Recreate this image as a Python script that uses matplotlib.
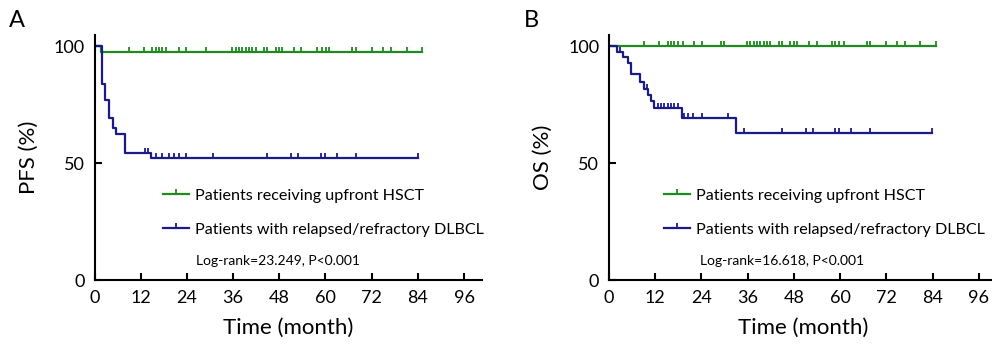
import numpy as np
import matplotlib
matplotlib.use("Agg")
import matplotlib.pyplot as plt
from matplotlib.path import Path

plt.rcParams['font.family'] = ['Lato', 'DejaVu Sans']

# ---- data (months, percent) ----
# Panel A: PFS
pfs_up_times = [0, 1.8, 85.0]
pfs_up_surv = [100, 97.4, 97.4]
pfs_up_cens = [8.9, 12.8, 15.0, 15.9, 16.7, 17.6, 18.5, 21.9, 23.7, 28.9,
               35.8, 36.7, 37.5, 38.4, 39.3, 40.1, 41.0, 41.9, 44.0, 44.9,
               47.1, 47.9, 48.8, 51.8, 53.6, 57.9, 59.2, 60.1, 60.9, 67.0,
               67.9, 72.0, 75.0, 77.0, 81.1, 85.0]

pfs_rr_times = [0, 1.9, 2.8, 3.8, 4.8, 5.6, 7.8, 14.7, 84.1]
pfs_rr_surv = [100, 83.6, 76.8, 69.4, 65.1, 62.2, 54.4, 52.0, 52.0]
pfs_rr_cens = [13.0, 13.8, 15.9, 17.6, 19.3, 20.6, 21.9, 23.8, 30.8, 44.9,
               51.0, 52.9, 58.9, 59.8, 63.0, 67.9, 84.1]

# Panel B: OS
os_up_times = [0, 84.8]
os_up_surv = [100, 100]
os_up_cens = [9.1, 13.0, 15.2, 16.0, 16.9, 17.8, 19.1, 22.1, 24.1, 29.0,
              29.8, 35.9, 36.7, 37.6, 38.5, 39.3, 40.2, 41.1, 41.9, 44.1,
              44.9, 47.1, 48.0, 48.8, 51.8, 54.0, 57.9, 58.7, 59.6, 60.9,
              66.9, 67.8, 71.8, 74.7, 76.8, 80.7, 84.8]

os_rr_times = [0, 2.0, 3.6, 4.9, 5.7, 8.0, 9.1, 10.1, 11.0, 11.8, 18.9, 32.9, 83.8]
os_rr_surv = [100, 97.6, 95.1, 92.6, 88.0, 84.8, 81.5, 79.0, 76.4, 73.5, 69.4, 62.8, 62.8]
os_rr_cens = [2.8, 9.9, 12.6, 13.5, 14.3, 15.2, 16.0, 16.9, 17.8, 19.5, 20.6,
              21.7, 24.1, 31.0, 35.0, 44.9, 51.0, 52.9, 58.7, 59.6, 62.9,
              67.8, 83.8]

labels = ["Patients receiving upfront HSCT",
          "Patients with relapsed/refractory DLBCL"]
xticks = [0, 12, 24, 36, 48, 60, 72, 84, 96]
yticks = [0, 50, 100]

GREEN = '#1f8a1f'
BLUE = '#1a1a8a'
tick_mark = Path([(0, 0), (0, 1)])


def step_value(times, surv, t):
    idx = np.searchsorted(times, t, side='right') - 1
    return np.asarray(surv)[idx]


def km(ax, times, surv, cens, color, label):
    ax.plot(times, surv, drawstyle='steps-post', color=color, lw=1.6,
            label=label, marker=tick_mark, markevery=[], ms=7, mew=1.3)
    ax.plot(cens, step_value(times, surv, cens), ls='none', color=color,
            marker=tick_mark, ms=7, mew=1.3)


def panel(ax, curves, ylabel, letter, stat, leg_x, stat_x):
    for times, surv, cens, color, label in curves:
        km(ax, times, surv, cens, color, label)
    ax.set_xlim(0, 100.6)
    ax.set_ylim(0, 104.7)
    ax.set_xticks(xticks)
    ax.set_yticks(yticks)
    for s in ['top', 'right']:
        ax.spines[s].set_visible(False)
    for s in ['left', 'bottom']:
        ax.spines[s].set_linewidth(1.5)
    ax.tick_params(direction='in', length=5, width=1.5, labelsize=13, pad=7)
    ax.set_xlabel("Time (month)", fontsize=16, labelpad=9)
    ax.set_ylabel(ylabel, fontsize=16, labelpad=11)
    leg = ax.legend(loc='upper left', bbox_to_anchor=(leg_x, 0.374), frameon=False,
                    fontsize=11.6, handlelength=1.6, handletextpad=0.38,
                    labelspacing=1.25, borderpad=0, borderaxespad=0, numpoints=1)
    for h in leg.legend_handles:
        h.set_markevery([1])
    ax.text(stat_x, 0.078, stat, transform=ax.transAxes, fontsize=10, va='center')
    ax.text(-0.22, 1.06, letter, transform=ax.transAxes, fontsize=17, va='center')


fig = plt.figure(figsize=(9.92, 3.52), dpi=100)
axA = fig.add_axes([0.0953, 0.2045, 0.3903, 0.696])
axB = fig.add_axes([0.6139, 0.2045, 0.3908, 0.696])

panel(axA, [(pfs_up_times, pfs_up_surv, pfs_up_cens, GREEN, labels[0]),
            (pfs_rr_times, pfs_rr_surv, pfs_rr_cens, BLUE, labels[1])],
      "PFS (%)", "A", "Log-rank=23.249, P<0.001", 0.177, 0.262)
panel(axB, [(os_up_times, os_up_surv, os_up_cens, GREEN, labels[0]),
            (os_rr_times, os_rr_surv, os_rr_cens, BLUE, labels[1])],
      "OS (%)", "B", "Log-rank=16.618, P<0.001", 0.142, 0.235)

fig.savefig("out.png", dpi=100)
